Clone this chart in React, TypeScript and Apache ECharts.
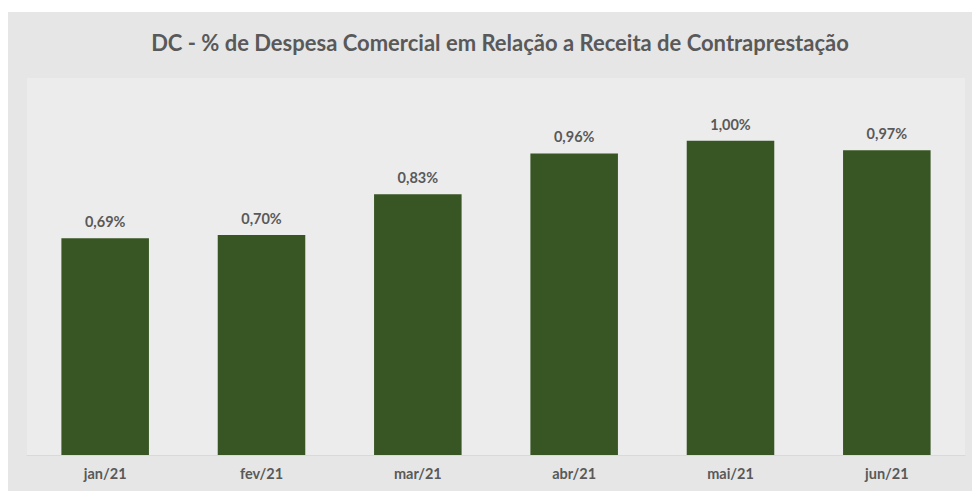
import React, { useEffect, useRef } from "react";
import * as echarts from "echarts";

const categories = ["jan/21", "fev/21", "mar/21", "abr/21", "mai/21", "jun/21"];
const values = [0.69, 0.7, 0.83, 0.96, 1.0, 0.97];
const titleText = "DC - % de Despesa Comercial em Relação a Receita de Contraprestação";

export default function App() {
  const ref = useRef<HTMLDivElement>(null);
  useEffect(() => {
    if (!ref.current) return;
    const chart = echarts.init(ref.current, null, { renderer: "svg" });
    chart.setOption({
      animation: false,
      backgroundColor: "#ffffff",
      title: {
        text: titleText,
        left: 495,
        top: 26,
        textAlign: "center",
        textStyle: { fontFamily: "Lato", fontWeight: "bold", fontSize: 22, color: "#595959" },
      },
      graphic: [
        {
          type: "rect",
          z: -10,
          silent: true,
          shape: { x: 8, y: 12, width: 964, height: 479 },
          style: { fill: "#e6e6e6" },
        },
      ],
      grid: {
        left: 27,
        right: 7,
        top: 78,
        bottom: 36,
        show: true,
        backgroundColor: "#ececec",
        borderWidth: 0,
      },
      xAxis: {
        type: "category",
        data: categories,
        axisLine: { show: true, lineStyle: { color: "#d9d9d9", width: 1 } },
        axisTick: { show: false },
        axisLabel: { color: "#595959", fontFamily: "Lato", fontWeight: "bold", fontSize: 14.5, margin: 11 },
      },
      yAxis: {
        type: "value",
        min: 0,
        max: 1.2,
        show: false,
        splitLine: { show: false },
      },
      series: [
        {
          type: "bar",
          data: values,
          barWidth: "56%",
          itemStyle: { color: "#375623" },
          label: {
            show: true,
            position: "top",
            distance: 9,
            color: "#595959",
            fontFamily: "Lato",
            fontWeight: "bold",
            fontSize: 14.5,
            formatter: (p: any) => p.value.toFixed(2).replace(".", ",") + "%",
          },
        },
      ],
    });
    return () => chart.dispose();
  }, []);
  return (
    <div
      ref={ref}
      style={{ position: "fixed", left: 0, top: 0, width: 972, height: 491 }}
    />
  );
}
